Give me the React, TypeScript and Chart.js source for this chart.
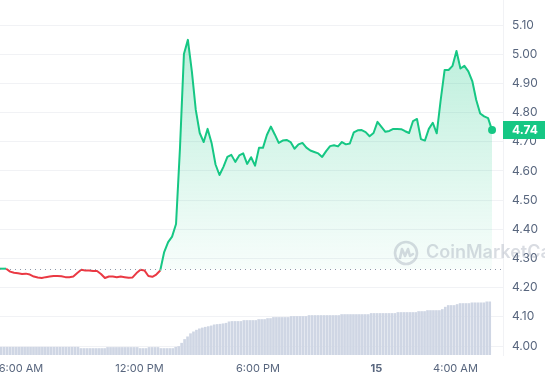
import React, { useEffect, useRef } from "react";
import { Chart, registerables } from "chart.js";

Chart.register(...registerables);

// ---- data ----
const PRICE_START_HOUR = 4.85; // 4:51 AM (day 14)
const PRICE_STEP_HOURS = 0.2; // 12 minutes
const PRICES = [
  4.265, 4.265, 4.265, 4.255, 4.251, 4.249, 4.247, 4.248, 4.245, 4.238,
  4.235, 4.233, 4.236, 4.238, 4.24, 4.24, 4.239, 4.236, 4.236, 4.238,
  4.25, 4.261, 4.259, 4.259, 4.257, 4.257, 4.247, 4.233, 4.238, 4.238,
  4.236, 4.238, 4.236, 4.234, 4.235, 4.25, 4.261, 4.259, 4.24, 4.237,
  4.245, 4.259, 4.322, 4.356, 4.375, 4.418, 4.679, 5.001, 5.049, 4.942,
  4.809, 4.73, 4.699, 4.744, 4.696, 4.622, 4.586, 4.614, 4.648, 4.655,
  4.631, 4.653, 4.66, 4.624, 4.647, 4.618, 4.679, 4.679, 4.723, 4.752,
  4.725, 4.696, 4.704, 4.706, 4.699, 4.676, 4.691, 4.696, 4.68, 4.67,
  4.665, 4.66, 4.648, 4.668, 4.685, 4.688, 4.684, 4.699, 4.691, 4.694,
  4.732, 4.739, 4.74, 4.733, 4.719, 4.73, 4.768, 4.751, 4.734, 4.737,
  4.744, 4.744, 4.743, 4.736, 4.73, 4.771, 4.778, 4.709, 4.704, 4.744,
  4.765, 4.729, 4.843, 4.946, 4.946, 4.96, 5.011, 4.951, 4.96, 4.941,
  4.908, 4.843, 4.797, 4.787, 4.781, 4.74,
];
const OPEN_PRICE = 4.263;

const VOL_START_HOUR = 4.983; // 4:59 AM
const VOL_STEP_HOURS = 0.15; // 9 minutes
const VOLUMES = [
  8.8, 8.8, 8.8, 8.8, 8.8, 8.8, 8.8, 8.8, 8.8, 8.8,
  8.8, 8.8, 8.8, 8.8, 8.8, 8.8, 8.8, 8.8, 8.8, 8.8,
  8.8, 8.8, 8.8, 8.8, 8.8, 8.8, 8.8, 7.3, 7.3, 7.3,
  7.3, 7.3, 7.3, 7.3, 7.3, 7.3, 8.5, 8.5, 8.5, 8.5,
  8.5, 8.5, 8.5, 8.5, 8.5, 8.5, 8.5, 7.3, 7.3, 7.3,
  8.5, 8.5, 8.5, 8.5, 7.3, 7.3, 7.3, 7.3, 7.3, 8.8,
  9.6, 13.3, 17.5, 20.5, 24.0, 26.1, 28.0, 29.5, 30.5, 31.3,
  32.0, 32.8, 34.0, 34.4, 34.7, 35.2, 35.8, 37.4, 37.8, 37.8,
  37.8, 37.8, 38.9, 38.9, 38.9, 38.9, 38.9, 40.0, 40.0, 40.0,
  41.1, 41.1, 42.3, 42.3, 42.3, 42.3, 42.3, 42.3, 43.4, 43.4,
  43.4, 43.4, 43.4, 43.4, 44.5, 44.5, 44.5, 44.5, 44.5, 44.5,
  44.5, 44.5, 44.5, 44.5, 44.5, 45.6, 45.6, 45.6, 45.6, 45.6,
  45.6, 45.6, 45.6, 45.6, 45.6, 46.8, 46.8, 46.8, 46.8, 46.8,
  46.8, 46.8, 46.8, 46.8, 47.9, 47.9, 47.9, 47.9, 47.9, 47.9,
  47.9, 49.0, 49.0, 49.0, 50.1, 50.1, 50.1, 50.1, 50.1, 51.3,
  53.9, 55.8, 55.8, 55.8, 56.9, 58.0, 58.0, 58.0, 58.0, 58.8,
  58.8, 58.8, 58.8, 58.8, 59.9, 59.9,
];

const X_TICK_HOURS = [6, 12, 18, 24, 28];
const X_TICK_LABELS = ["6:00 AM", "12:00 PM", "6:00 PM", "15", "4:00 AM"];
const Y_TICKS = [4.0, 4.1, 4.2, 4.3, 4.4, 4.5, 4.6, 4.7, 4.8, 4.9, 5.0, 5.1];

const X_MIN = 4.937;
const X_MAX = 30.405;
const Y_MIN = 3.9692;
const Y_MAX = 5.1857;
const VOL_MAX = 400;

const GREEN = "#16c784";
const RED = "#ea3943";
const AXIS_TEXT = "#58667e";
const GRID = "#f1f2f5";

function zeroPadding(s: any) {
  s.paddingLeft = 0;
  s.paddingRight = 0;
  s.paddingTop = 0;
  s.paddingBottom = 0;
}

const overlayPlugin = {
  id: "cmcOverlay",
  afterDatasetsDraw(chart: any) {
    const { ctx, chartArea, scales } = chart;
    const yb = scales.y.getPixelForValue(OPEN_PRICE);
    // dotted open-price line
    ctx.save();
    ctx.strokeStyle = "#8f98a8";
    ctx.lineWidth = 1;
    ctx.setLineDash([1, 4]);
    ctx.beginPath();
    ctx.moveTo(chartArea.left, Math.round(yb) + 0.5);
    ctx.lineTo(chartArea.right, Math.round(yb) + 0.5);
    ctx.stroke();
    ctx.restore();

    // watermark
    ctx.save();
    const wc = "rgba(128,138,160,0.3)";
    const cx = 406;
    const cy = 253;
    ctx.strokeStyle = wc;
    ctx.lineWidth = 2.6;
    ctx.beginPath();
    ctx.arc(cx, cy, 11, 0, Math.PI * 2);
    ctx.stroke();
    ctx.lineJoin = "round";
    ctx.lineCap = "round";
    ctx.beginPath();
    ctx.moveTo(cx - 6, cy + 5);
    ctx.lineTo(cx - 4, cy - 4);
    ctx.lineTo(cx - 1, cy + 3);
    ctx.lineTo(cx + 2, cy - 4);
    ctx.lineTo(cx + 4, cy + 3);
    ctx.lineTo(cx + 7, cy + 1);
    ctx.stroke();
    ctx.fillStyle = wc;
    ctx.font = "600 18px Inter";
    ctx.textBaseline = "middle";
    ctx.textAlign = "left";
    ctx.fillText("CoinMarketCap", 426, cy);
    ctx.restore();
  },
  afterDraw(chart: any) {
    const { ctx, chartArea, scales, width } = chart;
    const last = PRICES[PRICES.length - 1];
    const y = scales.y.getPixelForValue(last);
    ctx.save();
    ctx.fillStyle = GREEN;
    ctx.fillRect(chartArea.right, Math.round(y) - 9, width - chartArea.right, 18);
    ctx.fillStyle = "#ffffff";
    ctx.font = "bold 12px Inter";
    ctx.textBaseline = "middle";
    ctx.textAlign = "left";
    ctx.fillText(last.toFixed(2), chartArea.right + 9, Math.round(y) + 0.5);
    ctx.restore();
  },
};

export default function App() {
  const ref = useRef<HTMLCanvasElement | null>(null);

  useEffect(() => {
    if (!ref.current) return;
    Chart.defaults.font.family = "Inter";
    const priceData = PRICES.map((p, i) => ({ x: PRICE_START_HOUR + i * PRICE_STEP_HOURS, y: p }));
    const volData = VOLUMES.map((v, i) => ({ x: VOL_START_HOUR + i * VOL_STEP_HOURS, y: v }));

    const chart = new Chart(ref.current, {
      type: "line",
      data: {
        datasets: [
          {
            type: "line",
            data: priceData,
            yAxisID: "y",
            borderColor: GREEN,
            borderWidth: 2,
            tension: 0,
            borderJoinStyle: "round",
            segment: {
              borderColor: (c: any) => (c.p1.parsed.y >= OPEN_PRICE ? GREEN : RED),
            },
            backgroundColor: (c: any) => {
              const ch = c.chart;
              const area = ch.chartArea;
              if (!area) return "rgba(22,199,132,0.15)";
              const yb = ch.scales.y.getPixelForValue(OPEN_PRICE);
              const g = ch.ctx.createLinearGradient(0, area.top + 30, 0, yb);
              g.addColorStop(0, "rgba(22,199,132,0.30)");
              g.addColorStop(1, "rgba(22,199,132,0.03)");
              return g;
            },
            fill: { target: { value: OPEN_PRICE }, below: "rgba(0,0,0,0)" },
            pointRadius: (c: any) => (c.dataIndex === PRICES.length - 1 ? 4 : 0),
            pointHoverRadius: 0,
            pointBackgroundColor: GREEN,
            pointBorderWidth: 0,
            order: 1,
          } as any,
          {
            type: "bar",
            data: volData,
            yAxisID: "y2",
            backgroundColor: "#cfd6e4",
            barThickness: 2,
            order: 2,
          } as any,
        ],
      },
      options: {
        responsive: false,
        animation: false,
        devicePixelRatio: 1,
        layout: { padding: 0, autoPadding: false },
        plugins: {
          legend: { display: false },
          tooltip: { enabled: false },
        },
        scales: {
          x: {
            type: "linear",
            min: X_MIN,
            max: X_MAX,
            offset: false,
            grid: { display: false, drawTicks: false },
            border: { display: false },
            afterBuildTicks: (s: any) => {
              s.ticks = X_TICK_HOURS.map((v) => ({ value: v }));
            },
            afterFit: (s: any) => {
              s.height = 25;
              zeroPadding(s);
            },
            ticks: {
              autoSkip: false,
              maxRotation: 0,
              padding: 7,
              color: AXIS_TEXT,
              font: (c: any) =>
                c.tick && c.tick.value === 24
                  ? { size: 11, weight: "bold", family: "Inter" }
                  : { size: 11, family: "Inter" },
              callback: (v: any) => {
                const i = X_TICK_HOURS.indexOf(Number(v));
                return i >= 0 ? X_TICK_LABELS[i] : "";
              },
            },
          },
          y: {
            type: "linear",
            position: "right",
            min: Y_MIN,
            max: Y_MAX,
            grid: { color: GRID, drawTicks: false },
            border: { display: true, color: GRID },
            afterBuildTicks: (s: any) => {
              s.ticks = Y_TICKS.map((v) => ({ value: v }));
            },
            afterFit: (s: any) => {
              s.width = 42;
              zeroPadding(s);
            },
            ticks: {
              padding: 9,
              color: AXIS_TEXT,
              font: { size: 12, family: "Inter" },
              callback: (v: any) => Number(v).toFixed(2),
            },
          },
          y2: {
            type: "linear",
            display: false,
            min: 0,
            max: VOL_MAX,
          },
        },
      } as any,
      plugins: [overlayPlugin],
    });
    return () => chart.destroy();
  }, []);

  return (
    <div style={{ position: "fixed", left: 0, top: 0, width: 545, height: 380, background: "#fff" }}>
      <canvas ref={ref} width={545} height={380} />
    </div>
  );
}
